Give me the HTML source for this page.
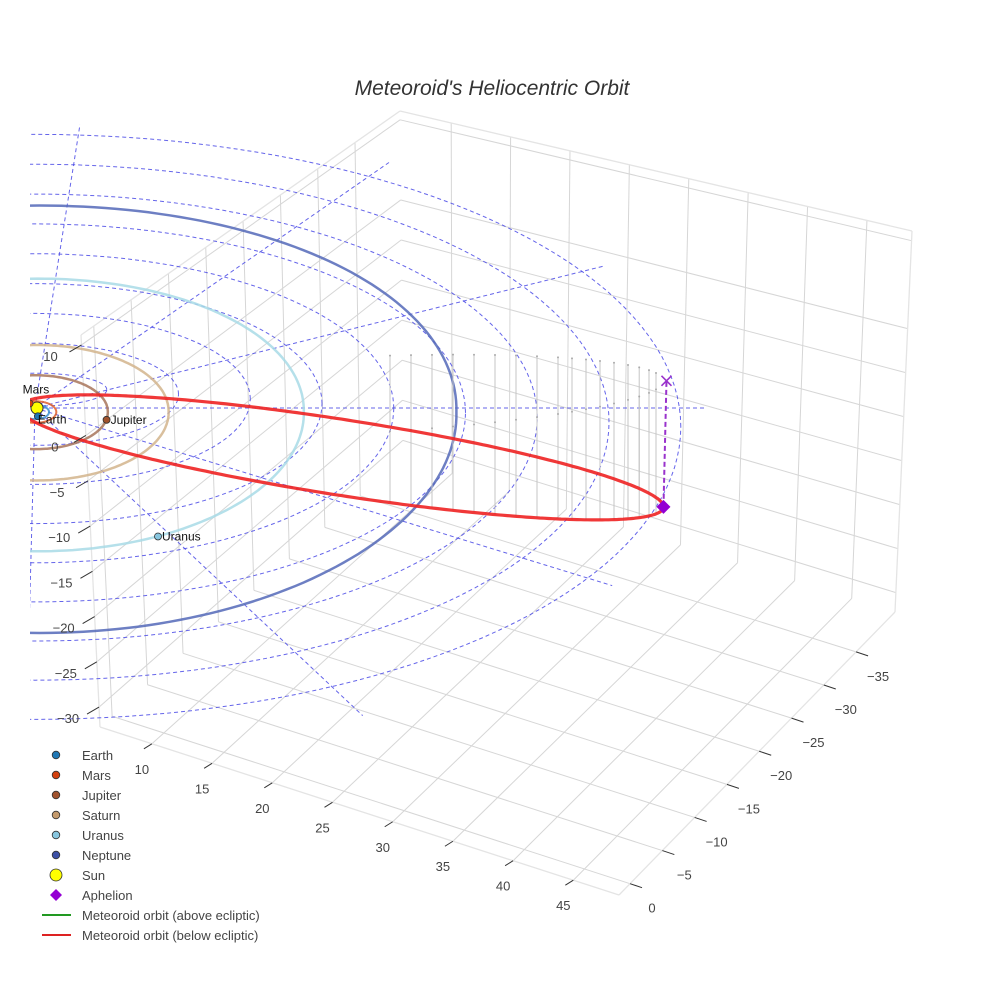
<!DOCTYPE html>
<html><head><meta charset="utf-8"><style>
html,body{margin:0;padding:0;background:#fff}
svg{display:block;font-family:"Liberation Sans",sans-serif}
</style></head><body>
<svg id="chart" width="984" height="984" viewBox="0 0 984 984">
<defs><clipPath id="sceneClip"><rect x="30" y="0" width="954" height="984"/></clipPath></defs>
<text x="492" y="95" text-anchor="middle" font-size="21" font-style="italic" fill="#333">Meteoroid's Heliocentric Orbit</text>
<g id="box"></g>
<g id="scene" clip-path="url(#sceneClip)"></g>
<g id="labels"></g>
<g id="axes"></g>
<g id="legend"></g>
</svg>
<script>
// ---- data arrays ----
const xTicks = [10,15,20,25,30,35,40,45];
const yTicks = [-35,-30,-25,-20,-15,-10,-5,0];
const zTicks = [10,0,-5,-10,-15,-20,-25,-30];
const planetNames = ["Earth","Mars","Jupiter","Saturn","Uranus","Neptune"];
const planetRadii = [1.0,1.52,5.2,9.54,19.2,30.1];
const planetX = [0.2,-0.4,5.1,-9.0,8.6,-20];
const planetY = [-0.6,1.2,-1.1,-3.0,-17.2,-22];
const planetColors = ["#1f77b4","#d2400e","#a0522d","#c49a6c","#87c6df","#3b4fa5"];
const orbitColors = ["#3a8fd0","#e0602a","#a8765a","#d2b48c","#a8dbe6","#5468b8"];
const ringRadii = [5,10,15,20,25,30,35,40,45];
const radialAngles = [0,30,60,90,120,150,180,210,240,270,300,330];
const meteorA = [23.0];
const meteorE = [0.958];
const aphelionDepth = [18];
const dropU = [25.5,27,28.5,30,31.5,33,34.5,36,37.5,38.5,39.5,40.5,41.5,42.5,43.3,44,44.5];

const NS="http://www.w3.org/2000/svg";
function mk(tag,attrs,parent){const e=document.createElementNS(NS,tag);for(const k in attrs)e.setAttribute(k,attrs[k]);parent.appendChild(e);return e;}
const box=document.getElementById('box'),scene=document.getElementById('scene'),axes=document.getElementById('axes'),legend=document.getElementById('legend'),labels=document.getElementById('labels');

// ---- box geometry ----
function lerp(a,b,t){return [a[0]+(b[0]-a[0])*t,a[1]+(b[1]-a[1])*t];}
const fL=[100,727],fR=[619,895],bR=[895,612],bL=[403,458];
const tBL=[400,111],tBR=[912,231],tFL=[81,335];
function ux(v){return 0.1+(v-10)*0.0232;}
function uy(v){return 0.04+(-v)*0.0234;}
function uz(v){return (11.1-v)/43.3;}
function line(p,q,attrs,name){const l=mk('line',Object.assign({x1:p[0],y1:p[1],x2:q[0],y2:q[1]},attrs),box);return l;}
const gA={stroke:"#d6d6d6","stroke-width":1};
for(const v of xTicks){const s=ux(v);line(lerp(fL,fR,s),lerp(bL,bR,s),gA,'floor-gridline-x');}
for(const v of yTicks){const s=uy(v);line(lerp(fL,bL,s),lerp(fR,bR,s),gA,'floor-gridline-y');}
for(const v of xTicks){const s=ux(v);line(lerp(tBL,tBR,s),lerp(bL,bR,s),gA,'backwall-gridline-x');}
for(const v of zTicks){const t=uz(v);line(lerp(tBL,bL,t),lerp(tBR,bR,t),gA,'backwall-gridline-z');}
for(const v of yTicks){const s=uy(v);line(lerp(tFL,tBL,s),lerp(fL,bL,s),gA,'leftwall-gridline-y');}
for(const v of zTicks){const t=uz(v);line(lerp(tFL,fL,t),lerp(tBL,bL,t),gA,'leftwall-gridline-z');}
const eA={stroke:"#e4e4e4","stroke-width":1.3};
line(tBL,tBR,eA,'box-edge');line(tBR,bR,eA,'box-edge');line(tBL,tFL,eA,'box-edge');line(tFL,fL,eA,'box-edge');line(fL,fR,eA,'box-edge');line(fR,bR,eA,'box-edge');

// ---- axes ticks & labels ----
function tick(p,dx,dy){const l=mk('line',{x1:p[0],y1:p[1],x2:p[0]+dx,y2:p[1]+dy,stroke:"#333","stroke-width":1},axes);}
function lab(x,y,txt,name){const t=mk('text',{x:x,y:y,"font-size":13,fill:"#444","text-anchor":"middle"},axes);t.textContent=txt;}
for(const v of xTicks){const p=lerp(fL,fR,ux(v));tick(p,-8,5);lab(p[0]-10,p[1]+30,String(v),'x-tick-label');}
for(const v of yTicks){const p=lerp(fR,bR,uy(v));tick(p,12,4);lab(p[0]+22,p[1]+29,String(v).replace('-','\u2212'),'y-tick-label');}
for(const v of zTicks){const p=lerp(tFL,fL,uz(v));tick(p,-12,7);lab(p[0]-31,p[1]+16,String(v).replace('-','\u2212'),'z-tick-label');}

// ---- ecliptic projection ----
const SX=35,SY=410;
function proj(x,y){return [SX+14*x+0.15*Math.abs(y), SY+2-7.1*y+0.008*y*y];}
function path(pts){return pts.map((p,i)=>(i?'L':'M')+p[0].toFixed(1)+','+p[1].toFixed(1)).join('');}

for(const R of ringRadii){
  const pts=[];for(let i=0;i<=180;i++){const th=i/180*2*Math.PI;const cy=385+0.93*R,ry=6.9*R-18,rx=14.35*R;
    pts.push([SX+rx*Math.cos(th),cy-ry*Math.sin(th)]);}
  const p=mk('path',{d:path(pts),fill:"none",stroke:"#4a4ae6","stroke-width":1,"stroke-dasharray":"4,3",opacity:0.85},scene);
  
  
}
for(const a of radialAngles){
  const r=a*Math.PI/180,c=Math.cos(r),s=Math.sin(r);const L=s>0.1?45:48;
  const ex=SX+14*L*c+1.0*L*s+(s<0?0.8*L*Math.abs(s):0),ey=408-(s>0?6.3:7.4)*L*s;
  const p=mk('line',{x1:SX,y1:408,x2:ex,y2:ey,stroke:"#4a4ae6","stroke-width":1,"stroke-dasharray":"4,3",opacity:0.85},scene);
  
  
}
planetRadii.forEach((R,i)=>{
  const pts=[];for(let k=0;k<=240;k++){const th=k/240*2*Math.PI;pts.push(proj(R*Math.cos(th),R*Math.sin(th)));}
  const p=mk('path',{d:path(pts),fill:"none",stroke:orbitColors[i],"stroke-width":i<2?2:2.5,opacity:0.85},scene);
  
  
});

// meteoroid orbit
const a=meteorA[0],e=meteorE[0],b=a*Math.sqrt(1-e*e);
function mproj(u,v){return [33+14.0*u, 410+2.15*u+5.8*v];}
const dropScale=aphelionDepth[0]*7/(a*(1+e));
for(const u of dropU){
  const c=(u-a*e)/a;const vv=b*Math.sqrt(Math.max(0,1-c*c));
  for(const sg of [-1,1]){
    const p=mproj(u,sg*vv);const top=p[1]-dropScale*u;
    const l=mk('line',{x1:p[0],y1:p[1],x2:p[0],y2:top,stroke:"#c4c4c4","stroke-width":1},scene);
    
    
    const d=mk('circle',{cx:p[0],cy:top,r:1,fill:"#aaa"},scene);
    
    
  }
}
{
  const pts=[];for(let k=0;k<=360;k++){const E=k/360*2*Math.PI;const U=a*e+a*Math.cos(E),V=b*Math.sin(E);pts.push(mproj(U,V));}
  const p=mk('path',{d:path(pts)+'Z',fill:"none",stroke:"#ee2222","stroke-width":3.2,opacity:0.9},scene);
  
  
}
{
  const Q=a*(1+e);const ap=mproj(Q,0);const top=[ap[0]+3,ap[1]-dropScale*Q];
  const l=mk('line',{x1:ap[0],y1:ap[1],x2:top[0],y2:top[1],stroke:"#9932cc","stroke-width":2,"stroke-dasharray":"5,3"},scene);
  
  
  const x=mk('path',{d:`M${top[0]-5},${top[1]-5}L${top[0]+5},${top[1]+5}M${top[0]-5},${top[1]+5}L${top[0]+5},${top[1]-5}`,stroke:"#9932cc","stroke-width":1.6,fill:"none"},scene);
  
  
  const d=mk('path',{d:`M${ap[0]},${ap[1]-7}L${ap[0]+7},${ap[1]}L${ap[0]},${ap[1]+7}L${ap[0]-7},${ap[1]}Z`,fill:"#9400d3"},scene);
  
  
}
{
  const s=mk('circle',{cx:37,cy:408,r:6,fill:"#ffff00",stroke:"#333","stroke-width":1},scene);
  
  
}
const labelOffsets=[[0,7],[-7,-10],[4,4],[0,0],[4,4]];
planetNames.forEach((n,i)=>{
  const p=proj(planetX[i],planetY[i]);
  const c=mk('circle',{cx:p[0],cy:p[1],r:3.5,fill:planetColors[i],stroke:"#333","stroke-width":0.8},scene);
  
  
  if(i<5&&i!==3){
    const off=labelOffsets[i];
    const t=mk('text',{x:p[0]+off[0],y:p[1]+off[1],"font-size":12,fill:"#111"},labels);
    t.textContent=n;
    
    
  }
});

// ---- legend ----
const legendLabels=["Earth","Mars","Jupiter","Saturn","Uranus","Neptune","Sun","Aphelion","Meteoroid orbit (above ecliptic)","Meteoroid orbit (below ecliptic)"];
const legendColors=["#1f77b4","#d2400e","#a0522d","#c49a6c","#87c6df","#3b4fa5","#ffff00","#9400d3","#229922","#dd2222"];
legendLabels.forEach((l,i)=>{
  const y=755+i*20;
  const g=mk('g',{},legend);
  
  
  if(i<6) mk('circle',{cx:56,cy:y,r:3.8,fill:legendColors[i],stroke:"#333","stroke-width":0.8},g);
  else if(i===6) mk('circle',{cx:56,cy:y,r:6,fill:legendColors[i],stroke:"#333","stroke-width":0.8},g);
  else if(i===7) mk('path',{d:`M56,${y-6}L62,${y}L56,${y+6}L50,${y}Z`,fill:legendColors[i]},g);
  else mk('line',{x1:42,y1:y,x2:71,y2:y,stroke:legendColors[i],"stroke-width":2},g);
  const t=mk('text',{x:82,y:y+5,"font-size":13,fill:"#444"},g);t.textContent=l;
});
</script>
</body></html>
